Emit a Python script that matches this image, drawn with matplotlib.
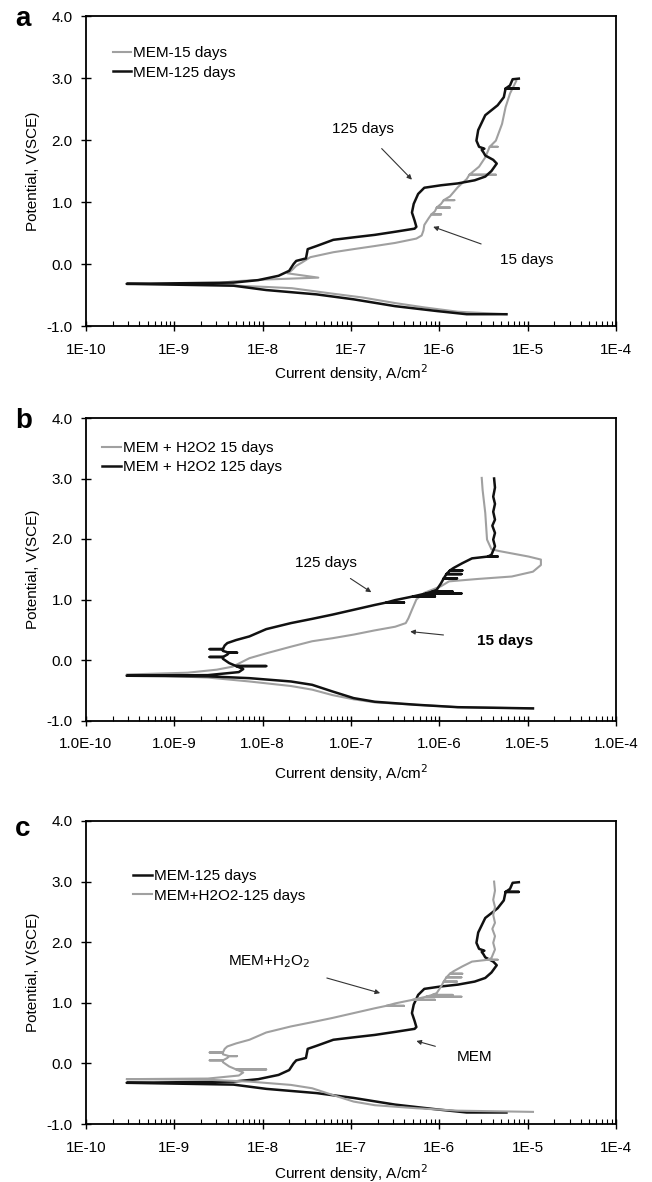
import numpy as np
import matplotlib
matplotlib.use("Agg")
import matplotlib.pyplot as plt
from matplotlib.ticker import LogLocator, FixedLocator, NullFormatter

plt.rcParams['font.family'] = ['Liberation Sans', 'DejaVu Sans']

# ---------------- data (log10 of current density, A/cm2 ; potential V(SCE)) ----------------
# MEM-125 days (cathodic branch end -> Ecorr -> anodic branch)
mem125_logi = [-5.24, -5.69, -6.02, -6.50, -6.97, -7.39, -7.96, -8.33, -9.54,
               -8.90, -8.33, -8.05, -7.82, -7.70, -7.65, -7.62, -7.51, -7.49, -7.39,
               -7.20, -6.97, -6.73, -6.50, -6.28, -6.26, -6.28, -6.31, -6.29, -6.24,
               -6.17, -5.98, -5.79, -5.60, -5.48, -5.41, -5.35, -5.39, -5.48, -5.50,
               -5.52, -5.49, -5.55, -5.58, -5.56, -5.48, -5.34, -5.27, -5.25, -5.10,
               -5.25, -5.20, -5.17, -5.10]
mem125_v = [-0.81, -0.81, -0.76, -0.68, -0.57, -0.49, -0.42, -0.35, -0.32,
            -0.31, -0.30, -0.26, -0.19, -0.11, 0.00, 0.05, 0.09, 0.24, 0.29,
            0.39, 0.43, 0.47, 0.52, 0.57, 0.60, 0.70, 0.83, 0.97, 1.13,
            1.23, 1.27, 1.30, 1.35, 1.41, 1.50, 1.62, 1.68, 1.75, 1.80,
            1.84, 1.86, 1.89, 1.99, 2.16, 2.40, 2.56, 2.69, 2.83, 2.83,
            2.83, 2.88, 2.98, 2.99]

# MEM-15 days
mem15_logi = [-5.24, -5.79, -6.17, -6.50, -6.87, -7.20, -7.67, -7.96, -8.62,
              -8.33, -7.96, -7.37, -7.72, -7.67, -7.62, -7.56, -7.46, -7.20,
              -6.97, -6.73, -6.50, -6.26, -6.20, -6.18, -6.17, -6.12,
              -6.09, -5.98, -6.09, -6.05, -6.03, -5.88, -6.03, -5.98, -5.95, -5.83, -5.95,
              -5.88, -5.79, -5.69, -5.66, -5.36, -5.66, -5.55, -5.48,
              -5.43, -5.34, -5.43, -5.36, -5.29, -5.25, -5.20, -5.13]
mem15_v = [-0.81, -0.77, -0.70, -0.63, -0.54, -0.48, -0.39, -0.37, -0.33,
           -0.28, -0.25, -0.22, -0.15, -0.10, -0.03, 0.02, 0.11, 0.19,
           0.24, 0.29, 0.34, 0.41, 0.46, 0.54, 0.63, 0.74,
           0.80, 0.80, 0.80, 0.85, 0.91, 0.91, 0.91, 0.97, 1.03, 1.03, 1.03,
           1.09, 1.24, 1.37, 1.44, 1.44, 1.44, 1.57, 1.72,
           1.89, 1.89, 1.89, 1.99, 2.26, 2.53, 2.75, 2.95]

# MEM + H2O2 125 days
h2o2_125_logi = [-4.94, -5.79, -6.26, -6.73, -6.97, -7.21, -7.44, -7.68, -8.15, -8.62, -9.54,
                 -8.62, -8.27, -8.22, -8.30, -7.96, -8.30, -8.38, -8.45, -8.45, -8.60, -8.45,
                 -8.40, -8.38, -8.29, -8.38, -8.45, -8.45, -8.60, -8.45, -8.43, -8.40,
                 -8.30, -8.15, -7.96, -7.68, -7.44, -7.21, -6.97, -6.73,
                 -6.60, -6.40, -6.60, -6.50, -6.30, -6.05, -6.30, -6.15, -5.75, -6.15,
                 -6.08, -5.85, -6.08, -6.03, -5.98, -5.95, -5.80, -5.95, -5.92, -5.75, -5.92,
                 -5.88, -5.74, -5.88, -5.84, -5.74, -5.63, -5.45, -5.34, -5.45,
                 -5.41, -5.37, -5.39, -5.37, -5.40, -5.37, -5.39, -5.37, -5.39, -5.37, -5.38]
h2o2_125_v = [-0.80, -0.78, -0.74, -0.69, -0.63, -0.52, -0.41, -0.355, -0.30, -0.27, -0.26,
              -0.25, -0.20, -0.15, -0.10, -0.10, -0.10, -0.05, 0.02, 0.05, 0.05, 0.05,
              0.09, 0.12, 0.12, 0.12, 0.15, 0.18, 0.18, 0.18, 0.24, 0.28,
              0.33, 0.39, 0.51, 0.61, 0.68, 0.75, 0.83, 0.91,
              0.95, 0.95, 0.95, 0.99, 1.05, 1.05, 1.05, 1.10, 1.10, 1.10,
              1.13, 1.13, 1.13, 1.16, 1.27, 1.35, 1.35, 1.35, 1.42, 1.42, 1.42,
              1.48, 1.48, 1.48, 1.52, 1.60, 1.68, 1.71, 1.71, 1.71,
              1.74, 1.88, 1.99, 2.10, 2.22, 2.32, 2.45, 2.58, 2.70, 2.85, 3.00]

# MEM + H2O2 15 days
h2o2_15_logi = [-4.94, -5.79, -6.26, -6.73, -6.97, -7.21, -7.44, -7.68, -8.15, -8.62, -9.54,
                -8.85, -8.52, -8.34, -8.15, -7.96, -7.68, -7.44, -7.21, -6.97, -6.73,
                -6.50, -6.38, -6.35, -6.31, -6.26, -6.17, -5.98, -5.89, -5.56, -5.18,
                -4.94, -4.85, -4.85, -4.99, -5.32, -5.41, -5.46, -5.48, -5.51, -5.52]
h2o2_15_v = [-0.80, -0.78, -0.74, -0.70, -0.65, -0.58, -0.49, -0.43, -0.355, -0.29, -0.24,
             -0.21, -0.16, -0.11, 0.03, 0.11, 0.22, 0.31, 0.36, 0.42, 0.49,
             0.55, 0.61, 0.69, 0.83, 1.00, 1.11, 1.22, 1.30, 1.34, 1.38,
             1.46, 1.57, 1.66, 1.71, 1.80, 1.83, 1.99, 2.43, 2.81, 3.01]

x_ticks = [1e-10, 1e-9, 1e-8, 1e-7, 1e-6, 1e-5, 1e-4]
x_labels_a = ['1E-10', '1E-9', '1E-8', '1E-7', '1E-6', '1E-5', '1E-4']
x_labels_b = ['1.0E-10', '1.0E-9', '1.0E-8', '1.0E-7', '1.0E-6', '1.0E-5', '1.0E-4']
y_ticks = [-1.0, 0.0, 1.0, 2.0, 3.0, 4.0]

GRAY = '#a0a0a0'
BLACK = '#111111'
FS = 11

fig = plt.figure(figsize=(6.52, 11.82), dpi=100)
W, H = 652.0, 1182.0
LEFT, RIGHT = 86, 616

def make_ax(top_px, bot_px):
    return fig.add_axes([LEFT / W, 1 - bot_px / H, (RIGHT - LEFT) / W, (bot_px - top_px) / H])

def style(ax, xlabels, xlabelpad):
    ax.set_xscale('log')
    ax.set_xlim(1e-10, 1e-4)
    ax.set_ylim(-1, 4)
    ax.xaxis.set_major_locator(FixedLocator(x_ticks))
    ax.set_xticklabels(xlabels)
    ax.xaxis.set_minor_locator(LogLocator(base=10, subs=np.arange(2, 10)))
    ax.xaxis.set_minor_formatter(NullFormatter())
    ax.yaxis.set_major_locator(FixedLocator(y_ticks))
    ax.set_yticklabels(['%.1f' % v for v in y_ticks])
    ax.tick_params(axis='x', which='major', direction='inout', length=7, width=1.0,
                   labelsize=FS, pad=8.5, top=False)
    ax.tick_params(axis='x', which='minor', direction='in', length=3.5, width=0.8, top=False)
    ax.tick_params(axis='y', which='major', direction='inout', length=7, width=1.0,
                   labelsize=FS, pad=6, right=False)
    ax.tick_params(axis='y', which='minor', left=False, right=False)
    for s in ax.spines.values():
        s.set_linewidth(1.3)
        s.set_color('black')
    ax.set_ylabel('Potential, V(SCE)', fontsize=FS, labelpad=5)
    ax.set_xlabel('Current density, A/cm$^2$', fontsize=FS, labelpad=xlabelpad)

def arr(x):
    return 10 ** np.asarray(x)

ARROW = dict(arrowstyle='-|>', color='#333333', lw=0.8, mutation_scale=7, shrinkB=0)

def legend(ax, x, y, hl):
    ax.legend(loc='upper left', bbox_to_anchor=(x, y), frameon=False, fontsize=FS,
              handlelength=hl, handletextpad=0.1, labelspacing=0.36,
              borderaxespad=0.0, borderpad=0.0)

# ---------------- panel a ----------------
axa = make_ax(16, 326)
style(axa, x_labels_a, 4)
axa.plot(arr(mem15_logi), mem15_v, color=GRAY, lw=1.5, label='MEM-15 days')
axa.plot(arr(mem125_logi), mem125_v, color=BLACK, lw=1.8, label='MEM-125 days')
axa.annotate('125 days', xy=(10 ** -6.31, 1.36), xytext=(10 ** -6.87, 2.18),
             ha='center', va='center', fontsize=FS, arrowprops=dict(ARROW, shrinkA=10))
axa.annotate('15 days', xy=(10 ** -6.07, 0.60), xytext=(10 ** -5.01, 0.06),
             ha='center', va='center', fontsize=FS, arrowprops=dict(ARROW, shrinkA=14))
legend(axa, 0.051, 0.903, 1.18)
fig.text(15 / W, 1 - 26 / H, 'a', fontsize=20, fontweight='bold', ha='left', va='baseline')

# ---------------- panel b ----------------
axb = make_ax(418, 720.5)
style(axb, x_labels_b, 8)
axb.plot(arr(h2o2_15_logi), h2o2_15_v, color=GRAY, lw=1.5, label='MEM + H2O2 15 days')
axb.plot(arr(h2o2_125_logi), h2o2_125_v, color=BLACK, lw=1.8, label='MEM + H2O2 125 days')
axb.annotate('125 days', xy=(10 ** -6.77, 1.12), xytext=(10 ** -7.28, 1.61),
             ha='center', va='center', fontsize=FS, arrowprops=dict(ARROW, shrinkA=8))
axb.annotate('15 days', xy=(10 ** -6.33, 0.47), xytext=(10 ** -5.26, 0.31),
             ha='center', va='center', fontsize=FS, fontweight='bold',
             arrowprops=dict(ARROW, shrinkA=22))
legend(axb, 0.030, 0.924, 1.25)
fig.text(15 / W, 1 - 428 / H, 'b', fontsize=20, fontweight='bold', ha='left', va='baseline')

# ---------------- panel c ----------------
axc = make_ax(821, 1124)
style(axc, x_labels_a, 5.5)
axc.plot(arr(mem125_logi), mem125_v, color=BLACK, lw=1.8, label='MEM-125 days')
axc.plot(arr(h2o2_125_logi), h2o2_125_v, color=GRAY, lw=1.5, label='MEM+H2O2-125 days')
axc.annotate('MEM+H$_2$O$_2$', xy=(10 ** -6.67, 1.16), xytext=(10 ** -7.93, 1.68),
             ha='center', va='center', fontsize=FS, arrowprops=dict(ARROW, shrinkA=14))
axc.annotate('MEM', xy=(10 ** -6.26, 0.37), xytext=(10 ** -5.60, 0.10),
             ha='center', va='center', fontsize=FS, arrowprops=dict(ARROW, shrinkA=14))
legend(axc, 0.089, 0.841, 1.25)
fig.text(15 / W, 1 - 836 / H, 'c', fontsize=20, fontweight='bold', ha='left', va='baseline')

fig.savefig('out.png', dpi=100)
